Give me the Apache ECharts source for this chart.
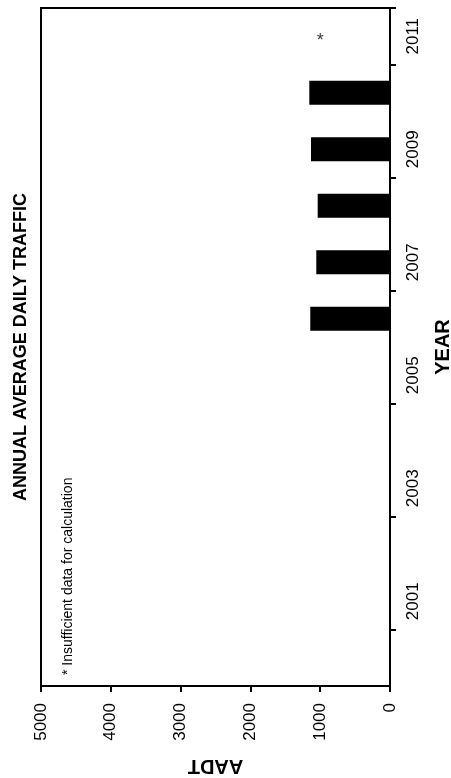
<!DOCTYPE html>
<html>
<head>
<meta charset="utf-8">
<script src="https://cdn.jsdelivr.net/npm/echarts@6/dist/echarts.min.js"></script>
<style>
html,body{margin:0;padding:0;background:#fff;}
#c{width:451px;height:778px;}
</style>
</head>
<body>
<div id="c"></div>
<script>
var years = ['2000','2001','2002','2003','2004','2005','2006','2007','2008','2009','2010','2011'];
var aadt = [null, null, null, null, null, null, 1142, 1056, 1036, 1132, 1156, null];
var insufficientYears = ['2011'];
var insufficientMarkValue = 1000;
var valueTicks = [0, 1000, 2000, 3000, 4000, 5000];
var titleText = 'ANNUAL AVERAGE DAILY TRAFFIC';
var footnoteText = '* Insufficient data for calculation';

var FONT = 'Liberation Sans, Arial, sans-serif';
var chart = echarts.init(document.getElementById('c'), null, {renderer: 'canvas'});
chart.setOption({
  animation: false,
  backgroundColor: '#fff',
  grid: {left: 41, top: 8, right: 61, bottom: 92, containLabel: false, outerBoundsMode: 'none',
    show: true, borderColor: '#000', borderWidth: 2},
  xAxis: {
    type: 'value', inverse: true, position: 'bottom',
    min: valueTicks[0], max: valueTicks[valueTicks.length - 1], interval: 1000,
    name: 'AADT', nameLocation: 'middle', nameGap: 70, nameRotate: 180,
    nameTextStyle: {fontFamily: FONT, fontSize: 20, fontWeight: 'bold', color: '#000'},
    axisLine: {show: true, lineStyle: {color: '#000', width: 2}},
    axisTick: {show: true, length: 6, lineStyle: {color: '#000', width: 2}},
    axisLabel: {rotate: 90, margin: 17, fontFamily: FONT, fontSize: 17, color: '#000',
      formatter: function (v) { return String(v); }},
    splitLine: {show: false}
  },
  yAxis: {
    type: 'category', data: years, position: 'right',
    name: 'YEAR', nameLocation: 'middle', nameGap: 43, nameRotate: 90,
    nameTextStyle: {fontFamily: FONT, fontSize: 20, fontWeight: 'bold', color: '#000'},
    axisLine: {show: true, lineStyle: {color: '#000', width: 2}},
    axisTick: {show: true, length: 6, lineStyle: {color: '#000', width: 2}},
    axisLabel: {rotate: 90, margin: 15, fontFamily: FONT, fontSize: 17, color: '#000',
      interval: function (i) { return i % 2 === 1; }},
    splitLine: {show: false}
  },
  series: [
    {type: 'bar', data: aadt, barWidth: 24, itemStyle: {color: '#000'}},
    {type: 'scatter', symbolSize: 0,
      data: insufficientYears.map(function (y) { return [insufficientMarkValue, y]; }),
      label: {show: true, formatter: '*', position: 'inside', offset: [0, 5], fontFamily: FONT, fontSize: 18, color: '#000'}}
  ],
  graphic: [
    {type: 'text', x: 21, y: 347, rotation: Math.PI / 2,
      style: {text: titleText, font: 'bold 18px ' + FONT, fill: '#000', align: 'center', verticalAlign: 'middle'}},
    {type: 'text', x: 68, y: 675, rotation: Math.PI / 2,
      style: {text: footnoteText, font: '14px ' + FONT, fill: '#000', align: 'left', verticalAlign: 'middle'}}
  ]
});
</script>
</body>
</html>
